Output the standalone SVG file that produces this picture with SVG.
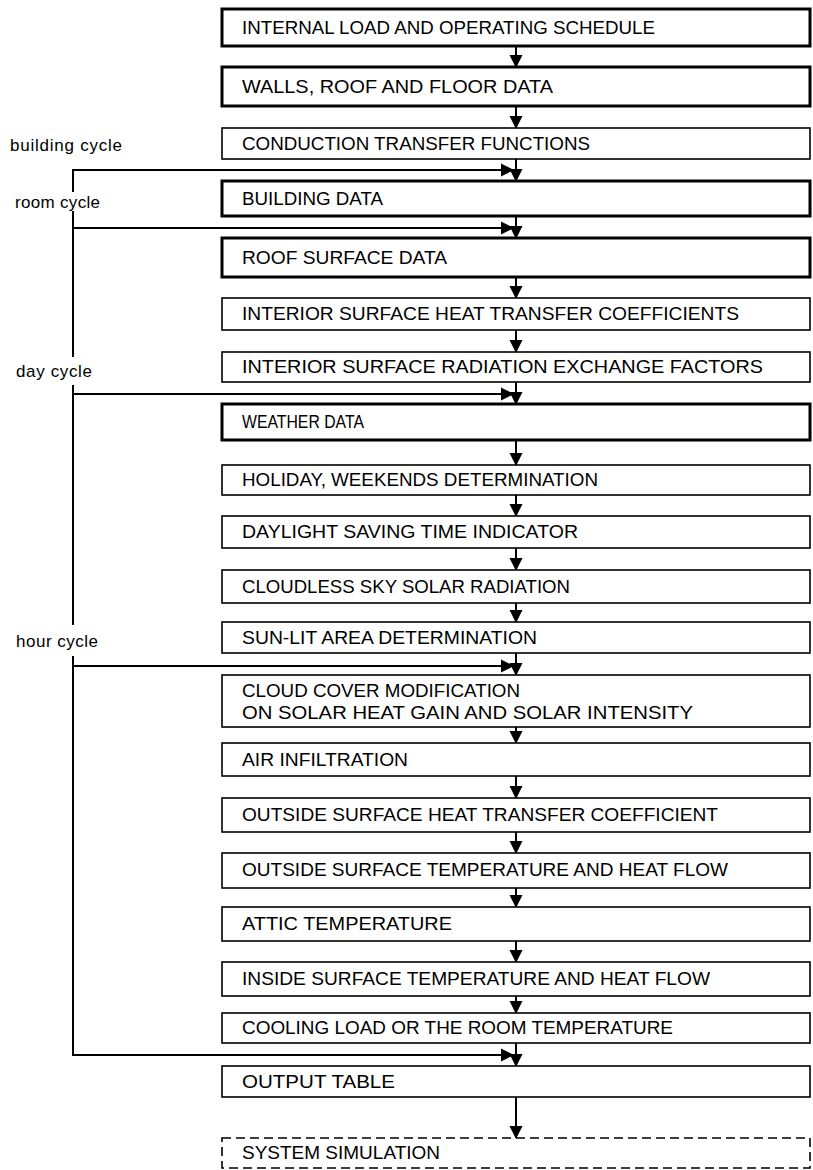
<svg xmlns="http://www.w3.org/2000/svg" width="813" height="1170" viewBox="0 0 813 1170">
<style>
.box{fill:#fff;stroke:#000;stroke-width:1.6}
.thick{stroke-width:3}
.dash{stroke-dasharray:9 5}
.t{font-family:"Liberation Sans",Arial,sans-serif;font-size:18.5px;fill:#000}
.lab{font-family:"Liberation Sans",Arial,sans-serif;font-size:17px;fill:#000}
.ln{stroke:#000;stroke-width:2;fill:none}
.ar{marker-end:url(#ah)}
</style>
<defs>
<marker id="ah" markerUnits="userSpaceOnUse" markerWidth="14" markerHeight="14" refX="12" refY="7" orient="auto" viewBox="0 0 14 14">
<path d="M0,0.5 L13,7 L0,13.5 z" fill="#000"/>
</marker>
</defs>
<rect width="813" height="1170" fill="#fff"/>
<g id="labels">
<text class="lab" x="10" y="151" textLength="112" lengthAdjust="spacing">building cycle</text>
<text class="lab" x="15" y="208" textLength="85" lengthAdjust="spacing">room cycle</text>
<text class="lab" x="16" y="377" textLength="76" lengthAdjust="spacing">day cycle</text>
<text class="lab" x="16" y="647" textLength="82" lengthAdjust="spacing">hour cycle</text>
</g>
<g id="connectors">
<line class="ln ar" x1="516" y1="46" x2="516" y2="67"/>
<line class="ln ar" x1="516" y1="106" x2="516" y2="128"/>
<line class="ln ar" x1="516" y1="159" x2="516" y2="181"/>
<line class="ln ar" x1="516" y1="216" x2="516" y2="238"/>
<line class="ln ar" x1="516" y1="277" x2="516" y2="298"/>
<line class="ln ar" x1="516" y1="330" x2="516" y2="352"/>
<line class="ln ar" x1="516" y1="382" x2="516" y2="404"/>
<line class="ln ar" x1="516" y1="440" x2="516" y2="465"/>
<line class="ln ar" x1="516" y1="495" x2="516" y2="516"/>
<line class="ln ar" x1="516" y1="548" x2="516" y2="570"/>
<line class="ln ar" x1="516" y1="603" x2="516" y2="622"/>
<line class="ln ar" x1="516" y1="653" x2="516" y2="675"/>
<line class="ln ar" x1="516" y1="727" x2="516" y2="743"/>
<line class="ln ar" x1="516" y1="776" x2="516" y2="798"/>
<line class="ln ar" x1="516" y1="832" x2="516" y2="853"/>
<line class="ln ar" x1="516" y1="888" x2="516" y2="907"/>
<line class="ln ar" x1="516" y1="941" x2="516" y2="962"/>
<line class="ln ar" x1="516" y1="996" x2="516" y2="1013"/>
<line class="ln ar" x1="516" y1="1043" x2="516" y2="1066"/>
<line class="ln ar" x1="516" y1="1097" x2="516" y2="1138"/>
<line class="ln ar" x1="73" y1="170" x2="513" y2="170"/>
<line class="ln ar" x1="73" y1="228" x2="513" y2="228"/>
<line class="ln ar" x1="73" y1="394" x2="513" y2="394"/>
<line class="ln ar" x1="73" y1="666" x2="513" y2="666"/>
<line class="ln ar" x1="73" y1="1055" x2="513" y2="1055"/>
<line class="ln" x1="73" y1="169" x2="73" y2="192"/>
<line class="ln" x1="73" y1="211" x2="73" y2="357"/>
<line class="ln" x1="73" y1="385" x2="73" y2="625"/>
<line class="ln" x1="73" y1="656" x2="73" y2="1056"/>
</g>
<g id="n1"><rect class="box thick" x="222" y="9" width="588" height="37"/><text class="t" x="242" y="34" textLength="413" lengthAdjust="spacingAndGlyphs">INTERNAL LOAD AND OPERATING SCHEDULE</text></g>
<g id="n2"><rect class="box thick" x="222" y="67" width="588" height="39"/><text class="t" x="242" y="93" textLength="311" lengthAdjust="spacingAndGlyphs">WALLS, ROOF AND FLOOR DATA</text></g>
<g id="n3"><rect class="box" x="222" y="128" width="588" height="31"/><text class="t" x="242" y="150" textLength="348" lengthAdjust="spacingAndGlyphs">CONDUCTION TRANSFER FUNCTIONS</text></g>
<g id="n4"><rect class="box thick" x="222" y="181" width="588" height="35"/><text class="t" x="242" y="205" textLength="141" lengthAdjust="spacingAndGlyphs">BUILDING DATA</text></g>
<g id="n5"><rect class="box thick" x="222" y="238" width="588" height="39"/><text class="t" x="242" y="264" textLength="205" lengthAdjust="spacingAndGlyphs">ROOF SURFACE DATA</text></g>
<g id="n6"><rect class="box" x="222" y="298" width="588" height="32"/><text class="t" x="242" y="320" textLength="497" lengthAdjust="spacingAndGlyphs">INTERIOR SURFACE HEAT TRANSFER COEFFICIENTS</text></g>
<g id="n7"><rect class="box" x="222" y="352" width="588" height="30"/><text class="t" x="242" y="373" textLength="521" lengthAdjust="spacingAndGlyphs">INTERIOR SURFACE RADIATION EXCHANGE FACTORS</text></g>
<g id="n8"><rect class="box thick" x="222" y="404" width="588" height="36"/><text class="t" x="242" y="428" textLength="122" lengthAdjust="spacingAndGlyphs">WEATHER DATA</text></g>
<g id="n9"><rect class="box" x="222" y="465" width="588" height="30"/><text class="t" x="242" y="486" textLength="356" lengthAdjust="spacingAndGlyphs">HOLIDAY, WEEKENDS DETERMINATION</text></g>
<g id="n10"><rect class="box" x="222" y="516" width="588" height="32"/><text class="t" x="242" y="538" textLength="336" lengthAdjust="spacingAndGlyphs">DAYLIGHT SAVING TIME INDICATOR</text></g>
<g id="n11"><rect class="box" x="222" y="570" width="588" height="33"/><text class="t" x="242" y="593" textLength="328" lengthAdjust="spacingAndGlyphs">CLOUDLESS SKY SOLAR RADIATION</text></g>
<g id="n12"><rect class="box" x="222" y="622" width="588" height="31"/><text class="t" x="242" y="644" textLength="295" lengthAdjust="spacingAndGlyphs">SUN-LIT AREA DETERMINATION</text></g>
<g id="n13"><rect class="box" x="222" y="675" width="588" height="52"/><text class="t" x="242" y="697" textLength="278" lengthAdjust="spacingAndGlyphs">CLOUD COVER MODIFICATION</text><text class="t" x="242" y="719" textLength="451" lengthAdjust="spacingAndGlyphs">ON SOLAR HEAT GAIN AND SOLAR INTENSITY</text></g>
<g id="n14"><rect class="box" x="222" y="743" width="588" height="33"/><text class="t" x="242" y="766" textLength="166" lengthAdjust="spacingAndGlyphs">AIR INFILTRATION</text></g>
<g id="n15"><rect class="box" x="222" y="798" width="588" height="34"/><text class="t" x="242" y="821" textLength="476" lengthAdjust="spacingAndGlyphs">OUTSIDE SURFACE HEAT TRANSFER COEFFICIENT</text></g>
<g id="n16"><rect class="box" x="222" y="853" width="588" height="35"/><text class="t" x="242" y="876" textLength="486" lengthAdjust="spacingAndGlyphs">OUTSIDE SURFACE TEMPERATURE AND HEAT FLOW</text></g>
<g id="n17"><rect class="box" x="222" y="907" width="588" height="34"/><text class="t" x="242" y="930" textLength="210" lengthAdjust="spacingAndGlyphs">ATTIC TEMPERATURE</text></g>
<g id="n18"><rect class="box" x="222" y="962" width="588" height="34"/><text class="t" x="242" y="985" textLength="468" lengthAdjust="spacingAndGlyphs">INSIDE SURFACE TEMPERATURE AND HEAT FLOW</text></g>
<g id="n19"><rect class="box" x="222" y="1013" width="588" height="30"/><text class="t" x="242" y="1034" textLength="431" lengthAdjust="spacingAndGlyphs">COOLING LOAD OR THE ROOM TEMPERATURE</text></g>
<g id="n20"><rect class="box" x="222" y="1066" width="588" height="31"/><text class="t" x="242" y="1088" textLength="153" lengthAdjust="spacingAndGlyphs">OUTPUT TABLE</text></g>
<g id="n21"><rect class="box dash" x="222" y="1138" width="588" height="30"/><text class="t" x="242" y="1159" textLength="198" lengthAdjust="spacingAndGlyphs">SYSTEM SIMULATION</text></g>
</svg>
